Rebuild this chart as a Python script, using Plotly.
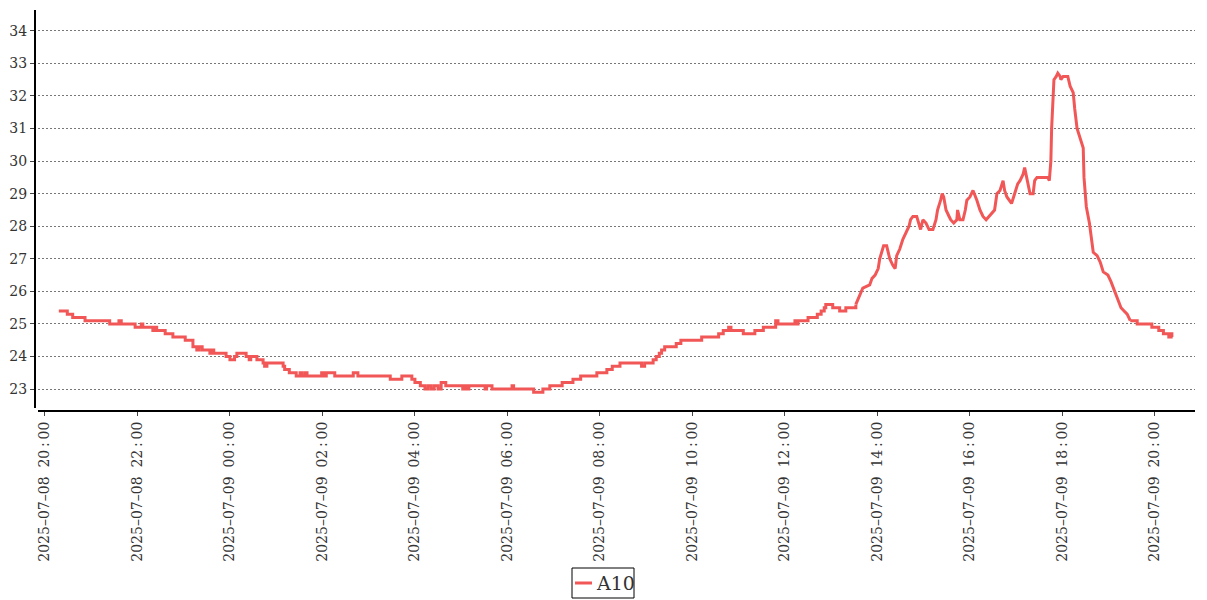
import plotly.graph_objects as go

# Timestamps (start of each reading level) and temperature values for series A10
times = [
    "2025-07-08 20:18", "2025-07-08 20:29", "2025-07-08 20:36", "2025-07-08 20:52",
    "2025-07-08 21:24", "2025-07-08 21:36", "2025-07-08 21:39", "2025-07-08 21:57",
    "2025-07-08 22:05", "2025-07-08 22:07", "2025-07-08 22:20", "2025-07-08 22:23",
    "2025-07-08 22:25", "2025-07-08 22:36", "2025-07-08 22:46", "2025-07-08 23:02",
    "2025-07-08 23:12", "2025-07-08 23:17", "2025-07-08 23:20", "2025-07-08 23:24",
    "2025-07-08 23:34", "2025-07-08 23:37", "2025-07-08 23:39", "2025-07-08 23:55",
    "2025-07-09 00:00", "2025-07-09 00:06", "2025-07-09 00:09", "2025-07-09 00:21",
    "2025-07-09 00:25", "2025-07-09 00:27", "2025-07-09 00:35", "2025-07-09 00:43",
    "2025-07-09 00:45", "2025-07-09 00:48", "2025-07-09 01:09", "2025-07-09 01:11",
    "2025-07-09 01:17", "2025-07-09 01:26", "2025-07-09 01:31", "2025-07-09 01:33",
    "2025-07-09 01:37", "2025-07-09 01:40", "2025-07-09 01:59", "2025-07-09 02:02",
    "2025-07-09 02:05", "2025-07-09 02:16", "2025-07-09 02:40", "2025-07-09 02:46",
    "2025-07-09 03:28", "2025-07-09 03:43", "2025-07-09 03:56", "2025-07-09 04:00",
    "2025-07-09 04:07", "2025-07-09 04:13", "2025-07-09 04:17", "2025-07-09 04:21",
    "2025-07-09 04:25", "2025-07-09 04:30", "2025-07-09 04:34", "2025-07-09 04:40",
    "2025-07-09 05:02", "2025-07-09 05:05", "2025-07-09 05:08", "2025-07-09 05:10",
    "2025-07-09 05:31", "2025-07-09 05:33", "2025-07-09 05:40", "2025-07-09 06:06",
    "2025-07-09 06:08", "2025-07-09 06:34", "2025-07-09 06:46", "2025-07-09 06:55",
    "2025-07-09 07:11", "2025-07-09 07:25", "2025-07-09 07:35", "2025-07-09 07:56",
    "2025-07-09 08:09", "2025-07-09 08:16", "2025-07-09 08:26", "2025-07-09 08:54",
    "2025-07-09 08:58", "2025-07-09 09:09", "2025-07-09 09:13", "2025-07-09 09:17",
    "2025-07-09 09:20", "2025-07-09 09:24", "2025-07-09 09:39", "2025-07-09 09:45",
    "2025-07-09 10:12", "2025-07-09 10:34", "2025-07-09 10:40", "2025-07-09 10:47",
    "2025-07-09 10:50", "2025-07-09 11:06", "2025-07-09 11:21", "2025-07-09 11:32",
    "2025-07-09 11:48", "2025-07-09 11:51", "2025-07-09 12:13", "2025-07-09 12:16",
    "2025-07-09 12:17", "2025-07-09 12:30", "2025-07-09 12:42", "2025-07-09 12:47",
    "2025-07-09 12:51", "2025-07-09 12:53", "2025-07-09 13:02", "2025-07-09 13:11",
    "2025-07-09 13:19", "2025-07-09 13:32", "2025-07-09 13:37", "2025-07-09 13:41",
    "2025-07-09 13:50", "2025-07-09 13:53", "2025-07-09 13:57", "2025-07-09 14:01",
    "2025-07-09 14:03", "2025-07-09 14:06", "2025-07-09 14:08", "2025-07-09 14:12",
    "2025-07-09 14:16", "2025-07-09 14:20", "2025-07-09 14:23", "2025-07-09 14:25",
    "2025-07-09 14:29", "2025-07-09 14:33", "2025-07-09 14:37", "2025-07-09 14:41",
    "2025-07-09 14:43", "2025-07-09 14:46", "2025-07-09 14:51", "2025-07-09 14:54",
    "2025-07-09 14:56", "2025-07-09 14:59", "2025-07-09 15:03", "2025-07-09 15:07",
    "2025-07-09 15:12", "2025-07-09 15:16", "2025-07-09 15:18", "2025-07-09 15:22",
    "2025-07-09 15:24", "2025-07-09 15:26", "2025-07-09 15:29", "2025-07-09 15:33",
    "2025-07-09 15:35", "2025-07-09 15:39", "2025-07-09 15:43", "2025-07-09 15:44",
    "2025-07-09 15:47", "2025-07-09 15:51", "2025-07-09 15:54", "2025-07-09 15:56",
    "2025-07-09 16:00", "2025-07-09 16:04", "2025-07-09 16:06", "2025-07-09 16:09",
    "2025-07-09 16:13", "2025-07-09 16:17", "2025-07-09 16:21", "2025-07-09 16:25",
    "2025-07-09 16:28", "2025-07-09 16:32", "2025-07-09 16:35", "2025-07-09 16:39",
    "2025-07-09 16:43", "2025-07-09 16:45", "2025-07-09 16:48", "2025-07-09 16:51",
    "2025-07-09 16:54", "2025-07-09 16:58", "2025-07-09 17:02", "2025-07-09 17:05",
    "2025-07-09 17:09", "2025-07-09 17:11", "2025-07-09 17:14", "2025-07-09 17:17",
    "2025-07-09 17:18", "2025-07-09 17:22", "2025-07-09 17:24", "2025-07-09 17:27",
    "2025-07-09 17:41", "2025-07-09 17:43", "2025-07-09 17:44", "2025-07-09 17:45",
    "2025-07-09 17:46", "2025-07-09 17:48", "2025-07-09 17:49", "2025-07-09 17:52",
    "2025-07-09 17:54", "2025-07-09 17:57", "2025-07-09 17:58", "2025-07-09 18:01",
    "2025-07-09 18:07", "2025-07-09 18:10", "2025-07-09 18:14", "2025-07-09 18:16",
    "2025-07-09 18:19", "2025-07-09 18:23", "2025-07-09 18:27", "2025-07-09 18:28",
    "2025-07-09 18:31", "2025-07-09 18:35", "2025-07-09 18:38", "2025-07-09 18:40",
    "2025-07-09 18:45", "2025-07-09 18:49", "2025-07-09 18:53", "2025-07-09 18:59",
    "2025-07-09 19:03", "2025-07-09 19:06", "2025-07-09 19:11", "2025-07-09 19:16",
    "2025-07-09 19:20", "2025-07-09 19:24", "2025-07-09 19:28", "2025-07-09 19:37",
    "2025-07-09 19:56", "2025-07-09 20:05", "2025-07-09 20:11", "2025-07-09 20:18",
    "2025-07-09 20:20", "2025-07-09 20:22", "2025-07-09 20:23",
]

values = [
    25.4, 25.3, 25.2, 25.1,
    25.0, 25.1, 25.0, 24.9,
    25.0, 24.9, 24.8, 24.9,
    24.8, 24.7, 24.6, 24.5,
    24.3, 24.2, 24.3, 24.2,
    24.1, 24.2, 24.1, 24.0,
    23.9, 24.0, 24.1, 24.0,
    23.9, 24.0, 23.9, 23.8,
    23.7, 23.8, 23.7, 23.6,
    23.5, 23.4, 23.5, 23.4,
    23.5, 23.4, 23.5, 23.4,
    23.5, 23.4, 23.5, 23.4,
    23.3, 23.4, 23.3, 23.2,
    23.1, 23.0, 23.1, 23.0,
    23.1, 23.0, 23.2, 23.1,
    23.0, 23.1, 23.0, 23.1,
    23.0, 23.1, 23.0, 23.1,
    23.0, 22.9, 23.0, 23.1,
    23.2, 23.3, 23.4, 23.5,
    23.6, 23.7, 23.8, 23.7,
    23.8, 23.9, 24.0, 24.1,
    24.2, 24.3, 24.4, 24.5,
    24.6, 24.7, 24.8, 24.9,
    24.8, 24.7, 24.8, 24.9,
    25.1, 25.0, 25.1, 25.0,
    25.1, 25.2, 25.3, 25.4,
    25.5, 25.6, 25.5, 25.4,
    25.5, 25.6, 25.9, 26.1,
    26.2, 26.4, 26.5, 26.7,
    27.0, 27.3, 27.4, 27.4,
    27.0, 26.8, 26.7, 27.1,
    27.3, 27.6, 27.8, 28.0,
    28.2, 28.3, 28.3, 28.0,
    27.9, 28.2, 28.1, 27.9,
    27.9, 28.2, 28.5, 28.8,
    29.0, 28.9, 28.5, 28.3,
    28.2, 28.1, 28.2, 28.5,
    28.2, 28.2, 28.5, 28.8,
    28.9, 29.1, 29.0, 28.8,
    28.5, 28.3, 28.2, 28.3,
    28.4, 28.5, 29.0, 29.1,
    29.4, 29.1, 28.9, 28.8,
    28.7, 29.0, 29.3, 29.4,
    29.6, 29.8, 29.5, 29.2,
    29.0, 29.0, 29.4, 29.5,
    29.5, 29.4, 29.7, 30.0,
    31.0, 32.3, 32.5, 32.6,
    32.7, 32.6, 32.5, 32.6,
    32.6, 32.3, 32.1, 31.6,
    31.0, 30.7, 30.4, 29.5,
    28.6, 28.1, 27.5, 27.2,
    27.1, 26.9, 26.6, 26.5,
    26.3, 26.1, 25.8, 25.5,
    25.4, 25.3, 25.1, 25.0,
    24.9, 24.8, 24.7, 24.6,
    24.7, 24.6, 24.6,
]

series_name = "A10"
y_ticks = list(range(23, 35))

# the sensor reading changes every sample during the fast-varying afternoon
fast_start = times.index("2025-07-09 13:32")
fast_end = times.index("2025-07-09 19:28")

FONT = "DejaVu Serif"
LINE_COLOR = "#f25757"

# The page body has an 8px margin, so the figure is sized to fill the rest of
# the 1207x600 window.  Layout numbers below are in figure pixels.
OFF = 8
W, H = 1207 - OFF, 600 - OFF
L, R, T, B = 35 - OFF, 12, 10 - OFF, 189
PW, PH = W - L - R, H - T - B


def px(page_x):
    return (page_x - OFF - L) / PW


def py(page_y):
    return (H - B - (page_y - OFF)) / PH


fig = go.Figure()
segments = [
    (0, fast_start + 1, "hv"),
    (fast_start, fast_end + 1, "linear"),
    (fast_end, len(times), "hv"),
]
for a, b, shape in segments:
    fig.add_trace(go.Scatter(
        x=times[a:b], y=values[a:b], name=series_name, mode="lines",
        line=dict(color=LINE_COLOR, width=3, shape=shape),
        showlegend=False,
    ))

fig.update_layout(
    width=W, height=H,
    paper_bgcolor="white", plot_bgcolor="white",
    margin=dict(l=L, r=R, t=T, b=B, autoexpand=False),
    font=dict(family=FONT, size=14, color="#333333"),
    showlegend=False,
    xaxis=dict(
        type="date",
        domain=[3 / PW, 1],
        anchor="free", position=0,
        range=["2025-07-08 19:51", "2025-07-09 20:52"],
        tick0="2025-07-08 20:00", dtick=7200000,
        tickformat="%Y\u2013%m\u2013%d\u00a0\u00a0%H\u2009:\u2009%M",
        tickangle=-90,
        showgrid=False, zeroline=False, automargin=False,
        showline=True, linecolor="black", linewidth=2,
        ticks="outside", ticklen=4, tickcolor="#444444",
        tickfont=dict(family=FONT, size=14, color="#333333"),
    ),
    yaxis=dict(
        domain=[3 / PH, 1],
        anchor="free", position=0,
        range=[22.42, 34.64],
        tickvals=y_ticks,
        showgrid=True, gridcolor="#777777", gridwidth=1, griddash="2px,2px",
        zeroline=False, automargin=False,
        showline=True, linecolor="black", linewidth=2,
        ticks="outside", ticklen=4, tickcolor="#444444",
        tickfont=dict(family=FONT, size=14, color="#333333"),
    ),
    shapes=[
        dict(type="rect", xref="paper", yref="paper",
             x0=px(572), x1=px(634), y0=py(598), y1=py(568),
             line=dict(color="black", width=1), fillcolor="white", layer="above"),
        dict(type="line", xref="paper", yref="paper",
             x0=px(575), x1=px(592), y0=py(583), y1=py(583),
             line=dict(color=LINE_COLOR, width=3), layer="above"),
    ],
    annotations=[
        dict(text=series_name, xref="paper", yref="paper",
             x=px(594), y=py(583), xanchor="left", yanchor="middle",
             showarrow=False, font=dict(family=FONT, size=19, color="#333333")),
    ],
)

fig.write_html("out.html")
